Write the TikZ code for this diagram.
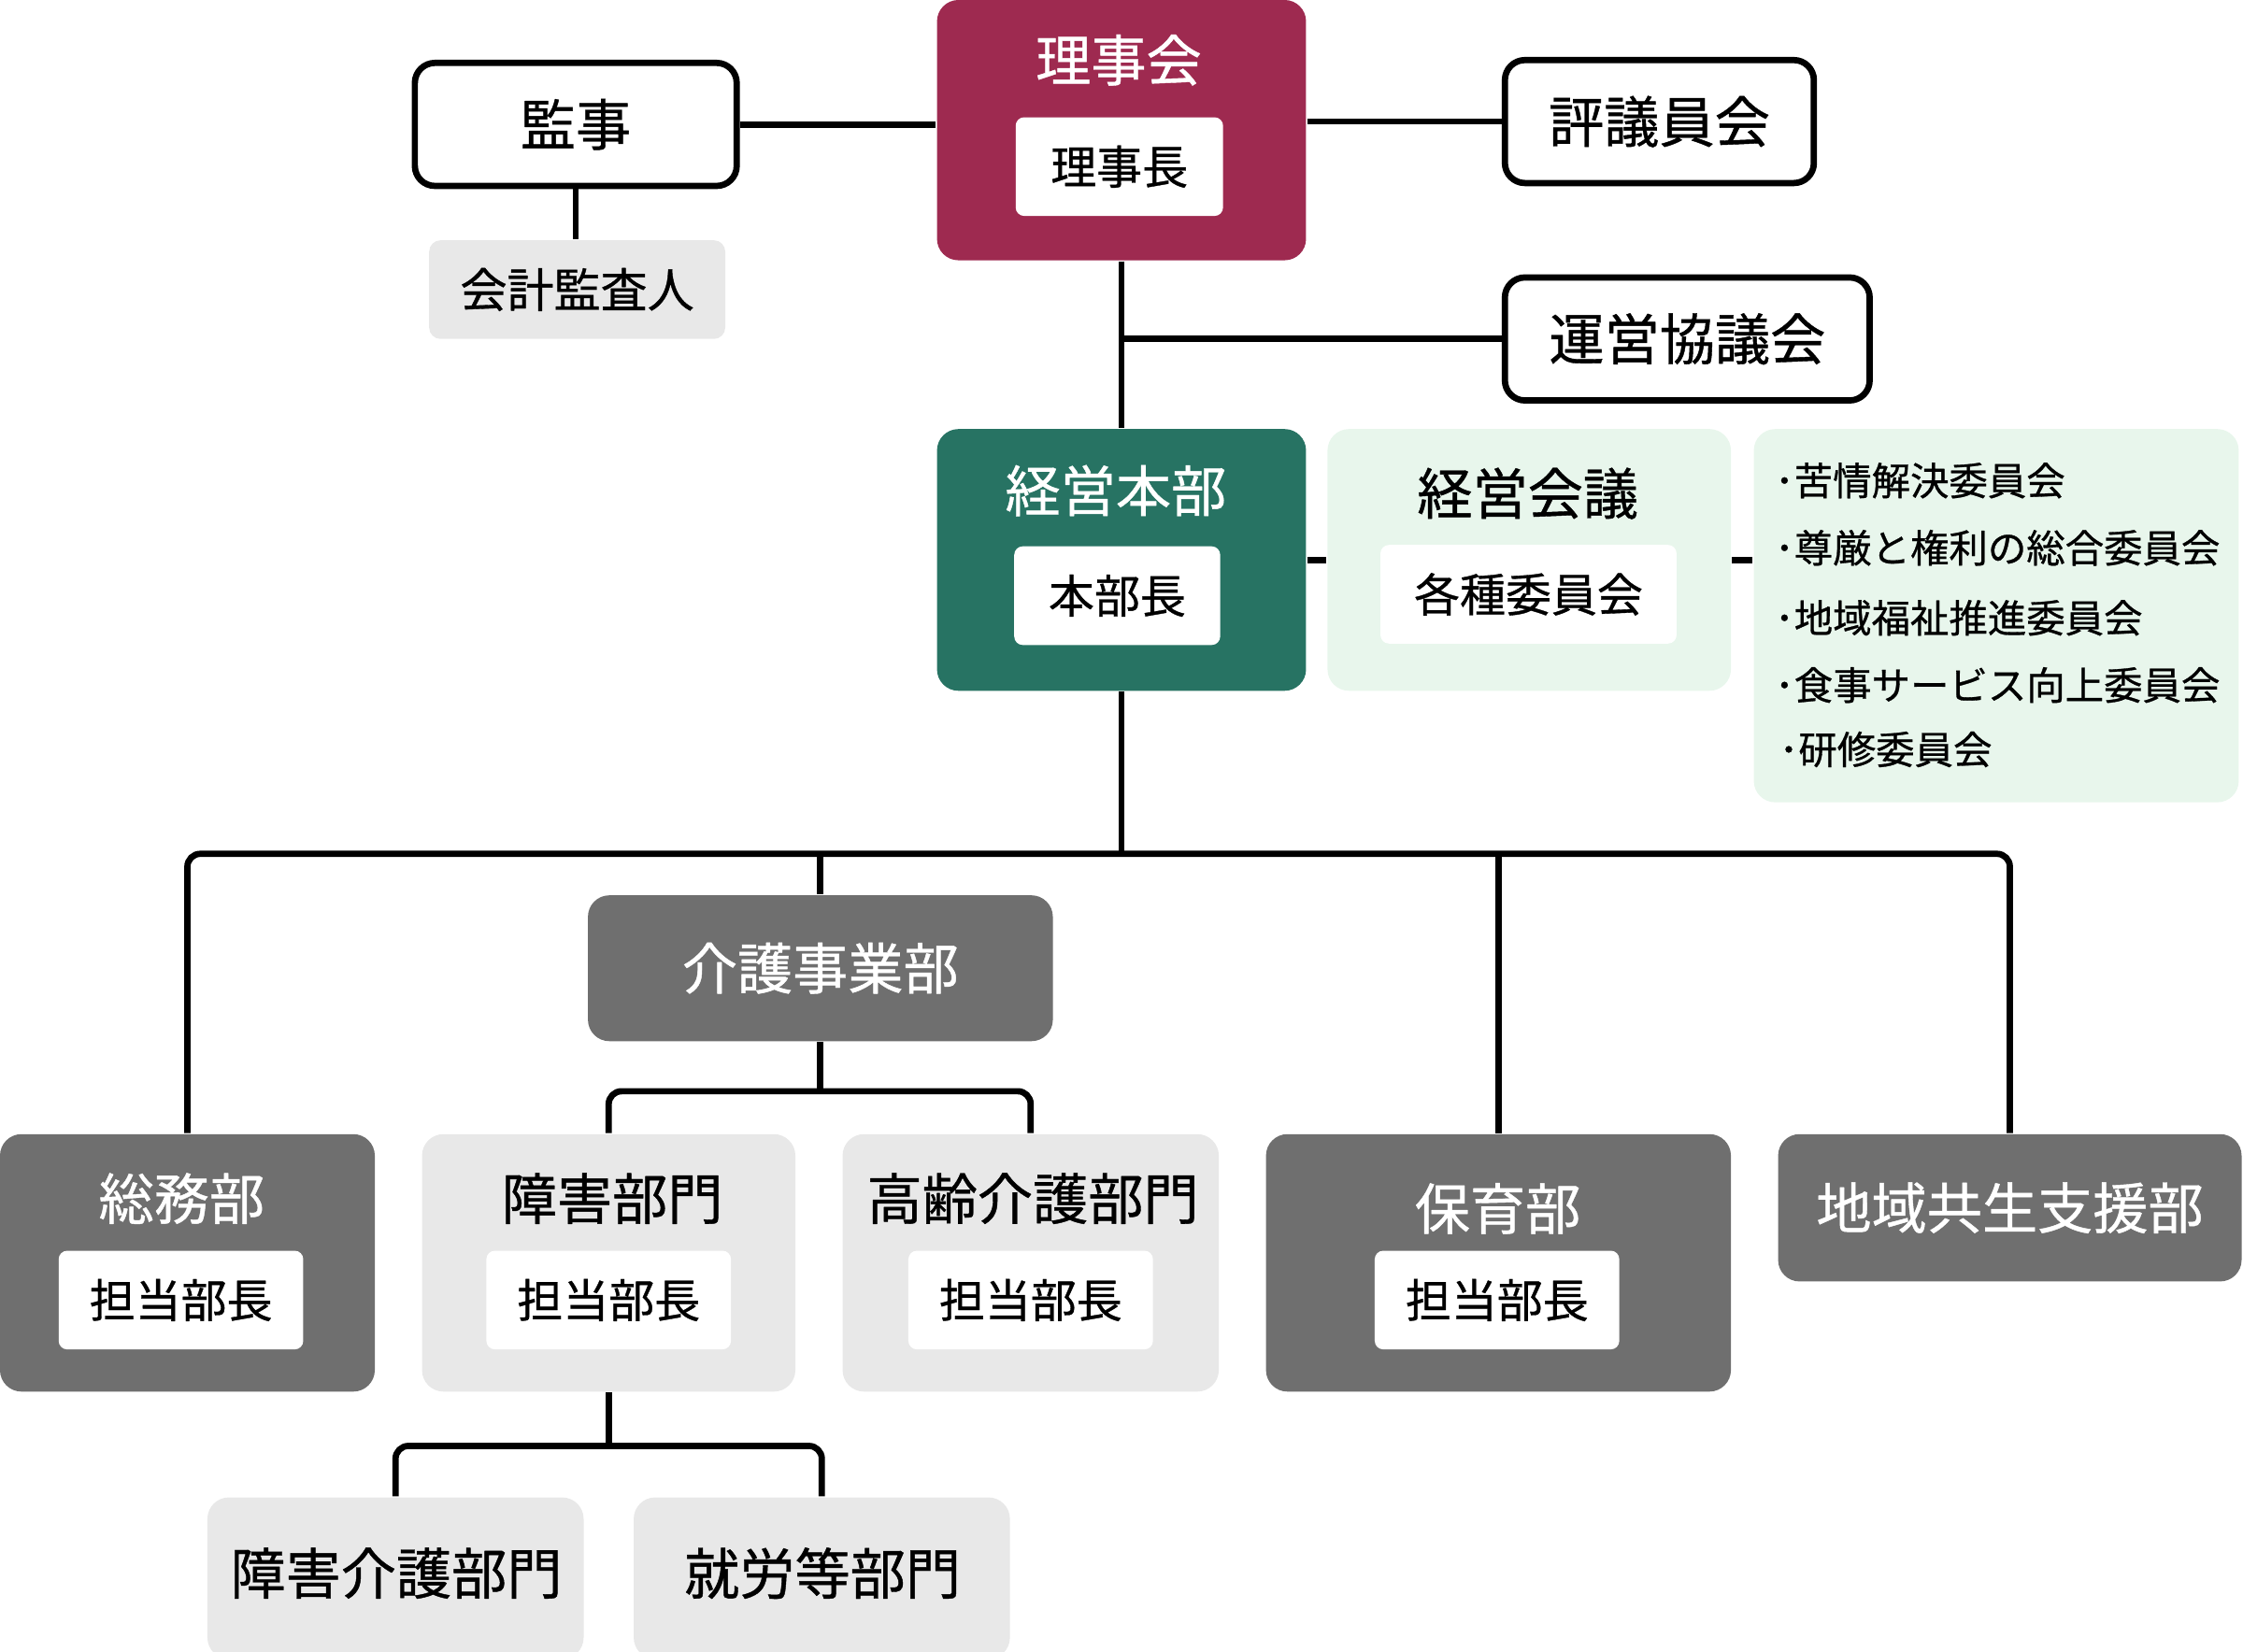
\documentclass[tikz,border=0pt]{standalone}
\usepackage{fontspec}
\setmainfont[FakeBold=0.7]{Noto Sans CJK JP}
\usetikzlibrary{calc}

\definecolor{rijired}{HTML}{9E2A50}
\definecolor{honbugreen}{HTML}{277363}
\definecolor{bugray}{HTML}{6F6F6F}
\definecolor{palegray}{HTML}{E8E8E8}
\definecolor{palegreen}{HTML}{E8F6EC}

\tikzset{
  conn/.style={line width=1.25pt},
  panel/.style={rounded corners=0.15cm,inner sep=0pt},
  ringbox/.style={draw,line width=1.25pt,fill=white,rounded corners=0.14cm,inner sep=0pt,minimum height=0.86cm,font=\fontsize{11}{13}\selectfont},
  headline/.style={inner sep=0pt,font=\fontsize{11}{13}\selectfont},
  chief/.style={fill=white,rounded corners=0.06cm,inner sep=0pt,minimum height=0.69cm,font=\fontsize{9.1}{11}\selectfont},
  cmtitem/.style={anchor=west,inner sep=0pt,font=\fontsize{7.7}{9}\selectfont}
}

\begin{document}
\begin{tikzpicture}[line join=round,x=1.0cm,y=1.0cm]
\clip(0.,-11.55) rectangle (15.68,0.);
% board
\node[panel,fill=rijired,minimum width=2.58cm,minimum height=1.82cm] (rijikai) at (7.84,-0.91) {};
\node[headline,text=white] (rijikaititle) at (7.82,-0.42) {理事会};
\node[chief,minimum width=1.45cm] (rijicho) at (7.825,-1.165) {理事長};
\node[ringbox,minimum width=2.25cm] (kanji) at (4.025,-0.87) {監事};
\node[panel,fill=palegray,rounded corners=0.08cm,minimum width=2.07cm,minimum height=0.69cm,font=\fontsize{9.3}{11}\selectfont] (kaikei) at (4.035,-2.025) {会計監査人};
\node[ringbox,minimum width=2.16cm] (hyogi) at (11.60,-0.85) {評議員会};
\node[ringbox,minimum width=2.55cm] (unei) at (11.795,-2.37) {運営協議会};
% head office
\node[panel,fill=honbugreen,minimum width=2.58cm,minimum height=1.83cm] (honbu) at (7.84,-3.915) {};
\node[headline,text=white] (honbutitle) at (7.80,-3.43) {経営本部};
\node[chief,minimum width=1.44cm] (honbucho) at (7.81,-4.165) {本部長};
\node[panel,fill=palegreen,minimum width=2.82cm,minimum height=1.83cm] (kaigi) at (10.69,-3.915) {};
\node[headline] (kaigititle) at (10.68,-3.45) {経営会議};
\node[chief,minimum width=2.07cm] (kakushu) at (10.685,-4.155) {各種委員会};
\node[panel,fill=palegreen,minimum width=3.39cm,minimum height=2.61cm] (iinkai) at (13.955,-4.305) {};
\node[cmtitem] (iin1) at (12.40,-3.36) {･苦情解決委員会};
\node[cmtitem] (iin2) at (12.40,-3.83) {･尊厳と権利の総合委員会};
\node[cmtitem] (iin3) at (12.40,-4.32) {･地域福祉推進委員会};
\node[cmtitem] (iin4) at (12.40,-4.79) {･食事サービス向上委員会};
\node[cmtitem] (iin5) at (12.43,-5.24) {･研修委員会};
% departments
\node[panel,fill=bugray,text=white,minimum width=3.25cm,minimum height=1.02cm,font=\fontsize{11}{13}\selectfont] (kaigo) at (5.735,-6.77) {介護事業部};
\node[panel,fill=bugray,minimum width=2.62cm,minimum height=1.80cm] (somu) at (1.31,-8.83) {};
\node[headline,text=white] (somutitle) at (1.27,-8.38) {総務部};
\node[chief,minimum width=1.71cm] (somucho) at (1.265,-9.09) {担当部長};
\node[panel,fill=palegray,minimum width=2.61cm,minimum height=1.80cm] (shogai) at (4.255,-8.83) {};
\node[headline] (shogaititle) at (4.28,-8.38) {障害部門};
\node[chief,minimum width=1.71cm] (shogaicho) at (4.255,-9.09) {担当部長};
\node[panel,fill=palegray,minimum width=2.63cm,minimum height=1.80cm] (korei) at (7.205,-8.83) {};
\node[headline] (koreititle) at (7.22,-8.38) {高齢介護部門};
\node[chief,minimum width=1.71cm] (koreicho) at (7.205,-9.09) {担当部長};
\node[panel,fill=bugray,minimum width=3.25cm,minimum height=1.80cm] (hoiku) at (10.475,-8.83) {};
\node[headline,text=white] (hoikutitle) at (10.47,-8.45) {保育部};
\node[chief,minimum width=1.71cm] (hoikucho) at (10.465,-9.09) {担当部長};
\node[panel,fill=bugray,text=white,minimum width=3.24cm,minimum height=1.03cm,font=\fontsize{11}{13}\selectfont] (chiiki) at (14.05,-8.445) {地域共生支援部};
\node[panel,fill=palegray,minimum width=2.63cm,minimum height=1.13cm] (shogaikaigo) at (2.765,-11.035) {};
\node[headline] (shogaikaigotitle) at (2.77,-11.00) {障害介護部門};
\node[panel,fill=palegray,minimum width=2.63cm,minimum height=1.13cm] (shuro) at (5.745,-11.035) {};
\node[headline] (shurotitle) at (5.75,-11.00) {就労等部門};

% connectors
\draw[conn] (kanji.east) -- (kanji.east -| rijikai.west);
\draw[conn] (kanji.south) -- (kanji.south |- kaikei.north);
\draw[conn] (rijikai.east |- hyogi.west) -- (hyogi.west);
\draw[conn] (rijikai.south) -- (honbu.north);
\draw[conn] (rijikai.south |- unei.west) -- (unei.west);
\draw[conn] (honbu.east) -- (kaigi.west);
\draw[conn] (kaigi.east) -- (kaigi.east -| iinkai.west);
\coordinate (bus) at (7.84,-5.97);
\draw[conn] (honbu.south) -- (bus);
\draw[conn,rounded corners=0.09cm] (somu.north) |- (bus) -| (chiiki.north);
\draw[conn] (bus -| kaigo.north) -- (kaigo.north);
\draw[conn] (bus -| hoiku.north) -- (hoiku.north);
\coordinate (kaigobus) at (5.735,-7.63);
\draw[conn] (kaigo.south) -- (kaigobus);
\draw[conn,rounded corners=0.09cm] (shogai.north) |- (kaigobus) -| (korei.north);
\coordinate (shogaibus) at (4.255,-10.11);
\draw[conn] (shogai.south) -- (shogaibus);
%\draw[conn] (shogaibus) -- (shuro.north);
\draw[conn,rounded corners=0.09cm] (shogaikaigo.north) |- (shogaibus) -| (shuro.north);
\end{tikzpicture}
\end{document}
